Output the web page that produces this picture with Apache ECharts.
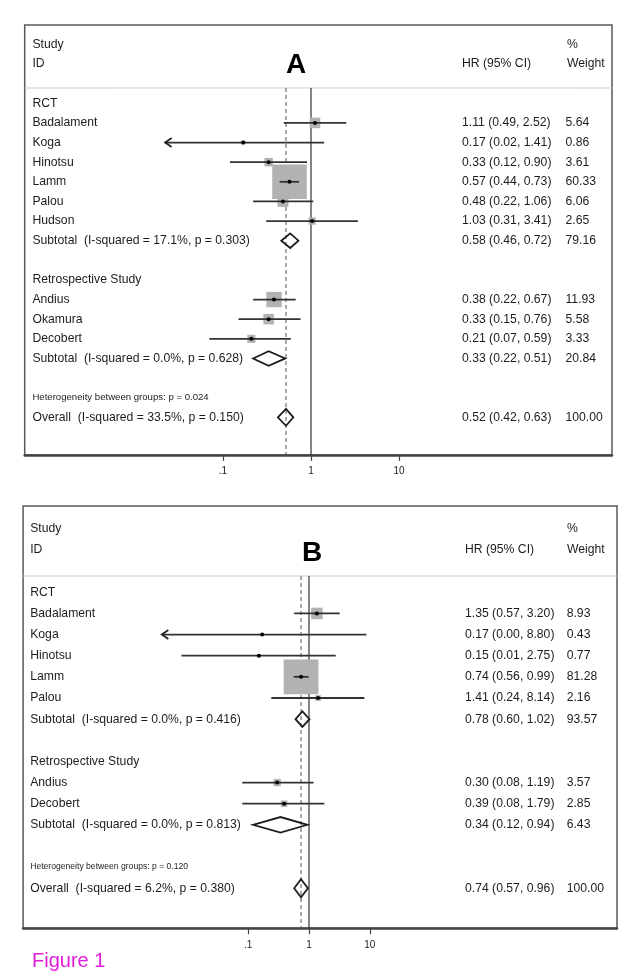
<!DOCTYPE html>
<html><head><meta charset="utf-8">
<script src="https://cdn.jsdelivr.net/npm/echarts@6/dist/echarts.min.js"></script>
<style>html,body{margin:0;padding:0;background:#fff}#c{width:638px;height:980px}</style>
</head><body><div id="c"></div>
<script>
// ---------------- Panel A data ----------------
const groupsA = ['RCT', 'Retrospective Study'];
const studiesA = ['Badalament','Koga','Hinotsu','Lamm','Palou','Hudson','Andius','Okamura','Decobert'];
const studyGroupA = [0,0,0,0,0,0,1,1,1];
const hrA = [1.11,0.17,0.33,0.57,0.48,1.03,0.38,0.33,0.21];
const loA = [0.49,0.022,0.12,0.44,0.22,0.31,0.22,0.15,0.07];
const hiA = [2.52,1.41,0.90,0.73,1.06,3.41,0.67,0.76,0.59];
const weightA = [5.64,0.86,3.61,60.33,6.06,2.65,11.93,5.58,3.33];
const arrowA = [false,true,false,false,false,false,false,false,false];
const subLabelA = ['Subtotal  (I-squared = 17.1%, p = 0.303)','Subtotal  (I-squared = 0.0%, p = 0.628)'];
const subHrA = [0.58,0.33];
const subLoA = [0.46,0.22];
const subHiA = [0.72,0.51];
const subWeightA = [79.16,20.84];
const hetA = 'Heterogeneity between groups: p = 0.024';
const overallLabelA = 'Overall  (I-squared = 33.5%, p = 0.150)';
const overallA = [0.52,0.42,0.63,100.00]; // HR, lower, upper, weight

// ---------------- Panel B data ----------------
const groupsB = ['RCT', 'Retrospective Study'];
const studiesB = ['Badalament','Koga','Hinotsu','Lamm','Palou','Andius','Decobert'];
const studyGroupB = [0,0,0,0,0,1,1];
const hrB = [1.35,0.17,0.15,0.74,1.41,0.30,0.39];
const loB = [0.57,0.0038,0.008,0.56,0.24,0.08,0.08];
const hiB = [3.20,8.80,2.75,0.99,8.14,1.19,1.79];
const weightB = [8.93,0.43,0.77,81.28,2.16,3.57,2.85];
const arrowB = [false,true,false,false,false,false,false];
const subLabelB = ['Subtotal  (I-squared = 0.0%, p = 0.416)','Subtotal  (I-squared = 0.0%, p = 0.813)'];
const subHrB = [0.78,0.34];
const subLoB = [0.60,0.12];
const subHiB = [1.02,0.94];
const subWeightB = [93.57,6.43];
const hetB = 'Heterogeneity between groups: p = 0.120';
const overallLabelB = 'Overall  (I-squared = 6.2%, p = 0.380)';
const overallB = [0.74,0.57,0.96,100.00];

// ---------------- axis ticks ----------------
const tickValues = [0.1, 1, 10];
const tickLabels = ['.1', '1', '10'];

// ---------------- build row structure ----------------
function buildPanel(groups, studies, sg, hr, lo, hi, w, arrow, subL, subHr, subLo, subHi, subW, het, ovL, ov) {
  const rows = [];
  let r = 0;
  groups.forEach((g, gi) => {
    rows.push({kind:'group', row:r++, label:g});
    studies.forEach((s, i) => {
      if (sg[i] !== gi) return;
      rows.push({kind:'study', row:r++, label:s, hr:hr[i], lo:lo[i], hi:hi[i], w:w[i], arrow:arrow[i]});
    });
    rows.push({kind:'sub', row:r++, label:subL[gi], hr:subHr[gi], lo:subLo[gi], hi:subHi[gi], w:subW[gi]});
    r++; // blank line
  });
  rows.push({kind:'het', row:r++, label:het});
  rows.push({kind:'overall', row:r++, label:ovL, hr:ov[0], lo:ov[1], hi:ov[2], w:ov[3]});
  return {rows, overall: ov};
}
const PA = buildPanel(groupsA, studiesA, studyGroupA, hrA, loA, hiA, weightA, arrowA, subLabelA, subHrA, subLoA, subHiA, subWeightA, hetA, overallLabelA, overallA);
const PB = buildPanel(groupsB, studiesB, studyGroupB, hrB, loB, hiB, weightB, arrowB, subLabelB, subHrB, subLoB, subHiB, subWeightB, hetB, overallLabelB, overallB);

// ---------------- layout (pixels / styles) ----------------
const FONT = "'Liberation Sans', Arial, Helvetica, sans-serif";
const LA = {labelX:32.4, hrX:462, wX:565.5, hrHeadX:462, wHeadX:567, title:'A', titleX:296, titleY:65,
  hetFont:9.6, boxK:4.45, sepRow:-0.78};
const LB = {labelX:30.2, hrX:465, wX:566.7, hrHeadX:465, wHeadX:567, title:'B', titleX:312, titleY:553,
  hetFont:8.6, boxK:3.85, sepRow:-0.77};

const fmt2 = v => v.toFixed(2);
function txt(x, y, s, size, extra) {
  return {type:'text', x:x, y:y, silent:true,
    style:Object.assign({text:s, fill:'#1c1c1c', font:size + 'px ' + FONT, align:'left', verticalAlign:'middle'}, extra || {})};
}

function rowRender(P, L) {
  return function (params, api) {
    const it = P.rows[params.dataIndex];
    const y = api.coord([0, it.row])[1];
    const unit = api.size([0, 1])[1];
    const X = v => api.coord([Math.log10(v), it.row])[0];
    const ch = [];
    if (it.kind === 'group') {
      ch.push(txt(L.labelX, y, it.label, 12.2));
    } else if (it.kind === 'het') {
      ch.push(txt(L.labelX, y, it.label, L.hetFont));
    } else if (it.kind === 'study') {
      const side = L.boxK * Math.sqrt(it.w);
      const cx = X(it.hr);
      ch.push({type:'rect', shape:{x:cx - side/2, y:y - side/2, width:side, height:side}, style:{fill:'#b2b2b2'}});
      const xl = X(it.lo), xh = X(it.hi);
      ch.push({type:'line', shape:{x1:xl, y1:y, x2:xh, y2:y}, style:{stroke:'#333', lineWidth:1.8}});
      if (it.arrow) {
        ch.push({type:'polyline', shape:{points:[[xl + 6.5, y - 4.5], [xl, y], [xl + 6.5, y + 4.5]]},
          style:{stroke:'#222', lineWidth:1.8, fill:'none'}});
      }
      ch.push({type:'circle', shape:{cx:cx, cy:y, r:2}, style:{fill:'#000'}});
      ch.push(txt(L.labelX, y, it.label, 12.2));
      ch.push(txt(L.hrX, y, fmt2(it.hr) + ' (' + fmt2(it.lo) + ', ' + fmt2(it.hi) + ')', 12.2));
      ch.push(txt(L.wX, y, fmt2(it.w), 12.2));
    } else {
      const h = (it.kind === 'overall' ? 0.43 : 0.37) * unit;
      const xl = X(it.lo), xh = X(it.hi), cx = X(it.hr);
      ch.push({type:'polygon', shape:{points:[[xl, y], [cx, y - h], [xh, y], [cx, y + h]]},
        style:{stroke:'#1e1e1e', lineWidth:1.8, fill:'none'}});
      ch.push(txt(L.labelX, y, it.label, 12.2));
      ch.push(txt(L.hrX, y, fmt2(it.hr) + ' (' + fmt2(it.lo) + ', ' + fmt2(it.hi) + ')', 12.2));
      ch.push(txt(L.wX, y, fmt2(it.w), 12.2));
    }
    return {type:'group', children:ch};
  };
}

function frameRender(P, L) {
  return function (params, api) {
    const cs = params.coordSys;
    const X = v => api.coord([Math.log10(v), 0])[0];
    const Y = r => api.coord([0, r])[1];
    const sepY = Y(L.sepRow);
    const bottom = cs.y + cs.height;
    const x1 = X(1), xo = X(P.overall[0]);
    return {type:'group', children:[
      {type:'line', shape:{x1:cs.x, y1:sepY, x2:cs.x + cs.width, y2:sepY}, style:{stroke:'#cfcfcf', lineWidth:1}},
      {type:'line', shape:{x1:x1, y1:sepY, x2:x1, y2:bottom}, style:{stroke:'#333', lineWidth:1.2}},
      {type:'line', shape:{x1:xo, y1:sepY, x2:xo, y2:bottom}, style:{stroke:'#555', lineWidth:1, lineDash:[4, 3]}},
      txt(L.labelX, Y(-3), 'Study', 12.2),
      txt(L.labelX, Y(-2), 'ID', 12.2),
      txt(L.hrHeadX, Y(-2), 'HR (95% CI)', 12.2),
      txt(L.wHeadX, Y(-3), '%', 12.2),
      txt(L.wHeadX, Y(-2), 'Weight', 12.2),
      txt(L.titleX, L.titleY, L.title, 28, {font:'bold 28px ' + FONT, align:'center', fill:'#000'})
    ]};
  };
}

function xAxisFor(gi, min, max, margin) {
  const tv = tickValues.map(v => Math.log10(v));
  return {
    gridIndex: gi, type:'value', min:min, max:max, position:'bottom',
    axisLine:{show:true, onZero:false, lineStyle:{color:'#444', width:2.5}},
    axisTick:{show:true, customValues:tv, length:6, lineStyle:{color:'#444', width:1.2}},
    axisLabel:{show:true, customValues:tv, margin:margin, fontSize:10, color:'#222', fontFamily:FONT,
      formatter: v => { const i = tv.findIndex(t => Math.abs(t - v) < 1e-6); return i >= 0 ? tickLabels[i] : ''; }},
    splitLine:{show:false}
  };
}

const chart = echarts.init(document.getElementById('c'), null, {renderer:'canvas'});
chart.setOption({
  animation:false,
  backgroundColor:'#fff',
  grid:[
    {left:24.7, right:26, top:25, bottom:525, show:true, borderColor:'#5a5a5a', borderWidth:1.5, backgroundColor:'transparent'},
    {left:23.1, right:21, top:506, bottom:51.7, show:true, borderColor:'#5a5a5a', borderWidth:1.5, backgroundColor:'transparent'}
  ],
  xAxis:[
    xAxisFor(0, -3.2534, 3.4205, 11),
    xAxisFor(1, -4.702, 5.066, 12)
  ],
  yAxis:[
    {gridIndex:0, type:'value', inverse:true, min:-3.99, max:17.92, show:false},
    {gridIndex:1, type:'value', inverse:true, min:-4.082, max:15.894, show:false}
  ],
  series:[
    {type:'custom', xAxisIndex:0, yAxisIndex:0, z:1, silent:true, clip:false, data:[[0, 0]], renderItem:frameRender(PA, LA)},
    {type:'custom', xAxisIndex:0, yAxisIndex:0, z:2, silent:true, clip:false, data:PA.rows.map(r => [0, r.row]), renderItem:rowRender(PA, LA)},
    {type:'custom', xAxisIndex:1, yAxisIndex:1, z:1, silent:true, clip:false, data:[[0, 0]], renderItem:frameRender(PB, LB)},
    {type:'custom', xAxisIndex:1, yAxisIndex:1, z:2, silent:true, clip:false, data:PB.rows.map(r => [0, r.row]), renderItem:rowRender(PB, LB)}
  ],
  graphic:[
    {type:'text', left:32, top:951, style:{text:'Figure 1', font:'20px ' + FONT, fill:'#e01cd8'}}
  ]
});
</script>
</body></html>
